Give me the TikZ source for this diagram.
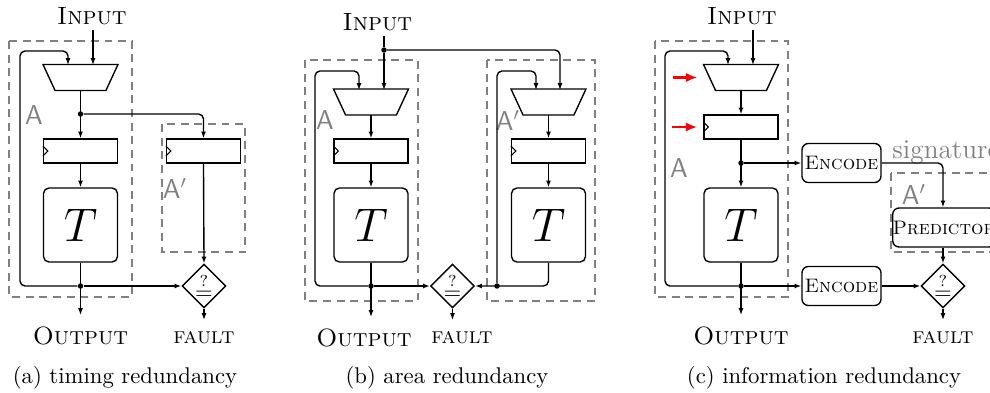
\documentclass[tikz,border=0pt]{standalone}
\usetikzlibrary{arrows.meta,shapes.geometric,calc}
\tikzset{
  wire/.style={line width=0.6pt},
  conn/.style={line width=0.6pt, -{Latex[length=3pt,width=2.2pt]}},
  loopconn/.style={conn, rounded corners=2.2pt},
  redarr/.style={draw=red, line width=1.2pt, -{Latex[length=5pt,width=4pt]}},
  regbox/.style={draw, line width=0.6pt, minimum width=74*0.44pt, minimum height=24*0.44pt, inner sep=0pt},
  tbox/.style={draw, rounded corners=2.4pt, line width=0.6pt, minimum width=74*0.44pt, minimum height=74*0.44pt, inner sep=0pt, font=\huge},
  muxbox/.style={minimum width=74*0.44pt, minimum height=25*0.44pt, inner sep=0pt},
  cmp/.style={draw, diamond, minimum width=39*0.44pt, minimum height=38*0.44pt, inner sep=0pt, line width=0.6pt},
  encbox/.style={draw, rounded corners=2.8pt, minimum width=79*0.44pt, minimum height=39*0.44pt, line width=0.6pt, inner sep=0pt, font=\fontsize{8.6}{10}\selectfont\scshape},
  areabox/.style={draw=gray, line width=0.6pt, dash pattern=on 3.5pt off 2.5pt},
  alabel/.style={text=gray, font=\large\sffamily, inner sep=0pt},
  inlabel/.style={font=\fontsize{11}{13}\selectfont\scshape, anchor=south, inner sep=2pt},
  outlabel/.style={font=\fontsize{11}{13}\selectfont\scshape, anchor=north, inner sep=5pt},
  faultlabel/.style={font=\scshape, anchor=north, inner sep=5pt},
  dotc/.style={circle, fill, inner sep=0pt, minimum size=2.4pt},
  caption/.style={font=\normalsize, inner sep=0pt},
}
\newcommand{\muxshape}[1]{\draw[wire] (#1.north west) -- (#1.north east) -- ($(#1.south east)+(-12,0)$) -- ($(#1.south west)+(12,0)$) -- cycle;}
\newcommand{\clockmark}[1]{\draw[line width=0.5pt] ($(#1.west)+(0,-5)$) -- ($(#1.west)+(5,0)$) -- ($(#1.west)+(0,5)$);}
\begin{document}
\begin{tikzpicture}[x=0.44pt,y=-0.44pt]
\path[use as bounding box] (0,0) rectangle (990,392);
\clip (0,0) rectangle (990,392);

% ================= (a) timing redundancy =================
\draw[areabox] (9,41) rectangle (132,297);
\draw[areabox] (162,124) rectangle (245,252);
\node[alabel] (labA) at (34,115) {A};
\node[alabel] (labA2) at (175,188) {A$'$};

\node[inlabel] (inA) at (92,30) {Input};
\node[muxbox] (muxA) at (80.5,77.5) {};
\muxshape{muxA}
\node[regbox] (regA) at (80.5,151) {};
\clockmark{regA}
\node[tbox] (TA) at (80.5,225) {$T$};
\node[regbox] (regA2) at (203.5,151) {};
\clockmark{regA2}
\node[cmp] (cmpA) at (204,286) {$\stackrel{?}{=}$};
\node[dotc] (m1) at (80.5,114) {};
\node[dotc] (dotA) at (80.5,286) {};
\node[outlabel] (outA) at (80.5,315) {Output};
\node[faultlabel] (faultA) at (204,320) {fault};
\coordinate (loopA) at (20,51);
\coordinate (fbA) at (68,65);
\coordinate (inAx) at (93,65);

\draw[conn] (inA.south -| inAx) -- (inAx);
\draw[conn] (muxA.south) -- (regA.north);
\draw[loopconn] (m1) -| (regA2.north);
\draw[conn] (regA.south) -- (TA.north);
\draw[conn] (TA.south) -- (outA.north);
\draw[conn] (regA2.south) -- (cmpA.north);
\draw[conn] (dotA) -- (cmpA.west);
\draw[loopconn] (dotA) -| (loopA) -| (fbA);
\draw[conn] (cmpA.south) -- (faultA.north);
\node[caption] (capA) at (125,378) {(a) timing redundancy};

% ================= (b) area redundancy =================
\draw[areabox] (305,60) rectangle (418,301);
\draw[areabox] (487,60) rectangle (595,301);
\node[alabel] (labB) at (325,120) {A};
\node[alabel] (labB2) at (508,120) {A$'$};

\node[inlabel] (inB) at (377.5,36) {Input};
\node[dotc] (m2) at (384,50) {};
\node[muxbox] (muxB) at (371,102) {};
\muxshape{muxB}
\node[regbox] (regB) at (371,151) {};
\clockmark{regB}
\node[tbox] (TB) at (371,225) {$T$};
\node[muxbox] (muxB2) at (548.5,102) {};
\muxshape{muxB2}
\node[regbox] (regB2) at (548.5,151) {};
\clockmark{regB2}
\node[tbox] (TB2) at (548.5,225) {$T$};
\node[cmp] (cmpB) at (452.5,286) {$\stackrel{?}{=}$};
\node[dotc] (dotB) at (371,286) {};
\node[dotc] (dotB2) at (497,286) {};
\node[outlabel] (outB) at (364,317) {Output};
\node[faultlabel] (faultB) at (462,320) {fault};
\coordinate (inB1) at (384,90);
\coordinate (inB2) at (560,90);
\coordinate (loopB) at (315,71);
\coordinate (fbB) at (359,90);
\coordinate (topB2) at (536,71);
\coordinate (fbB2) at (536,90);

\draw[wire] (inB.south -| m2) -- (m2);
\draw[conn] (m2) -- (inB1);
\draw[loopconn] (m2) -| (inB2);
\draw[conn] (muxB.south) -- (regB.north);
\draw[conn] (regB.south) -- (TB.north);
\draw[conn] (TB.south) -- (outB.north -| dotB);
\draw[conn] (dotB) -- (cmpB.west);
\draw[loopconn] (dotB) -| (loopB) -| (fbB);
\draw[conn] (muxB2.south) -- (regB2.north);
\draw[conn] (regB2.south) -- (TB2.north);
\draw[loopconn] (TB2.south) |- (cmpB.east);
\draw[loopconn] (dotB2) |- (topB2) -- (fbB2);
\draw[conn] (cmpB.south) -- (cmpB.south |- faultB.north);
\node[caption] (capB) at (447,378) {(b) area redundancy};

% ================= (c) information redundancy =================
\draw[areabox] (655,41) rectangle (788,297);
\draw[areabox] (891,173) rectangle (1010,252);
\node[alabel] (labC) at (679,168) {A};
\node[alabel] (labC2) at (914,194) {A$'$};

\node[inlabel] (inC) at (742,30) {Input};
\coordinate (inCx) at (753,65);
\node[muxbox] (muxC) at (741,77.5) {};
\muxshape{muxC}
\node[regbox] (regC) at (741,127) {};
\clockmark{regC}
\node[tbox] (TC) at (741,225) {$T$};
\node[dotc] (m3) at (741,163) {};
\node[dotc] (dotC) at (741,286) {};
\node[encbox] (enc1) at (841.5,163) {Encode};
\node[encbox] (enc2) at (841.5,286) {Encode};
\node[encbox, minimum width=96*0.44pt] (pred) at (944,227.5) {Predictor};
\node[cmp] (cmpC) at (943,286) {$\stackrel{?}{=}$};
\node[outlabel] (outC) at (741,315) {Output};
\node[faultlabel] (faultC) at (943,320) {fault};
\node[text=gray, font=\large, anchor=base west, inner sep=0pt] (sig) at (892,158) {signature};
\coordinate (loopC) at (665,51);
\coordinate (fbC) at (728,65);

\draw[redarr] ($(muxC.west)+(-31,0)$) -- ($(muxC.west)+(-6,0)$);
\draw[redarr] ($(regC.west)+(-31,0)$) -- ($(regC.west)+(-6,0)$);

\draw[conn] (inC.south -| inCx) -- (inCx);
\draw[conn] (muxC.south) -- (regC.north);
\draw[conn] (regC.south) -- (TC.north);
\draw[conn] (m3) -- (enc1.west);
\draw[loopconn] (enc1.east) -| (cmpC.north |- pred.north);
\draw[conn] (pred.south -| cmpC.north) -- (cmpC.north);
\draw[conn] (TC.south) -- (outC.north);
\draw[conn] (dotC) -- (enc2.west);
\draw[conn] (enc2.east) -- (cmpC.west);
\draw[loopconn] (dotC) -| (loopC) -| (fbC);
\draw[conn] (cmpC.south) -- (faultC.north);
\node[caption] (capC) at (824,378) {(c) information redundancy};
\end{tikzpicture}
\end{document}
